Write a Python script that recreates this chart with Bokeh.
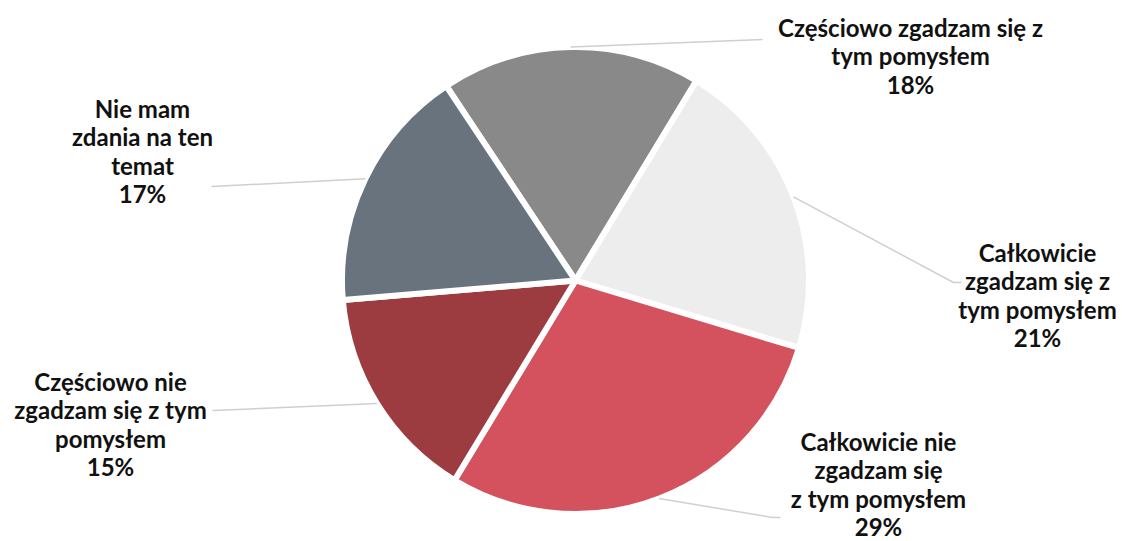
import math
from bokeh.plotting import figure
from bokeh.models import Range1d, ColumnDataSource
from bokeh.core.properties import value
from bokeh.embed import file_html
from bokeh.resources import INLINE

# ---- data ----
categories = [
    "Częściowo zgadzam się z tym pomysłem",
    "Całkowicie zgadzam się z tym pomysłem",
    "Całkowicie nie zgadzam się z tym pomysłem",
    "Częściowo nie zgadzam się z tym pomysłem",
    "Nie mam zdania na ten temat",
]
shares = [18, 21, 29, 15, 17]
label_lines = [
    ["Częściowo zgadzam się z", "tym pomysłem"],
    ["Całkowicie", "zgadzam się z", "tym pomysłem"],
    ["Całkowicie nie", "zgadzam się", "z tym pomysłem"],
    ["Częściowo nie", "zgadzam się z tym", "pomysłem"],
    ["Nie mam", "zdania na ten", "temat"],
]
colors = ["#898989", "#EDEDED", "#D3525D", "#9C3B40", "#68737E"]

# ---- layout (picture pixel coordinates) ----
W, H = 1122, 541
CX, CY_S, R = 575, 280, 233.5
START_DEG = -33.6  # clockwise from 12 o'clock
label_anchor = [(910, 27), (1037, 252), (878, 441), (110, 381), (142, 108)]
leader_elbow = [(762, 39), (953, 282), (772, 517), (212, 410), (211, 186)]
leader_end = [(762, 39), (961, 282), (780, 517), (212, 410), (211, 186)]
LINE_STEP = 28.4


def yd(ys):
    return H - ys


p = figure(width=W, height=H, output_backend="svg", toolbar_location=None,
           x_range=Range1d(0, W), y_range=Range1d(0, H), min_border=0)
p.axis.visible = False
p.grid.visible = False
p.outline_line_color = None
p.background_fill_color = "white"
p.border_fill_color = "white"

total = sum(shares)
starts, ends, mids = [], [], []
cum = 0
for s in shares:
    ts = START_DEG + cum / total * 360
    te = ts + s / total * 360
    starts.append(math.radians(90 - te))
    ends.append(math.radians(90 - ts))
    mids.append((ts + te) / 2)
    cum += s

src = ColumnDataSource(dict(x=[CX] * len(shares), y=[yd(CY_S)] * len(shares),
                            start=starts, end=ends, color=colors, cat=categories))
p.wedge(x="x", y="y", radius=R, start_angle="start", end_angle="end",
        fill_color="color", line_color="white", line_width=6, line_join="round",
        source=src)

# leader lines
xs, ys = [], []
for i, m in enumerate(mids):
    sx = CX + R * math.sin(math.radians(m))
    sy = yd(CY_S) + R * math.cos(math.radians(m))
    xs.append([sx, leader_elbow[i][0], leader_end[i][0]])
    ys.append([sy, yd(leader_elbow[i][1]), yd(leader_end[i][1])])
p.multi_line(xs=xs, ys=ys, line_color="#CFCFCF", line_width=1.5)

# labels
tx, ty, tt = [], [], []
for i, lines in enumerate(label_lines):
    allines = lines + [f"{shares[i]}%"]
    ax, ay = label_anchor[i]
    for k, t in enumerate(allines):
        tx.append(ax)
        ty.append(yd(ay + k * LINE_STEP))
        tt.append(t)
p.text(x=tx, y=ty, text=tt, text_align="center", text_baseline="middle",
       text_font=value("Lato"), text_font_style="bold", text_font_size="24px",
       text_color="#111111")

open("out.html", "w").write(file_html(p, INLINE))
